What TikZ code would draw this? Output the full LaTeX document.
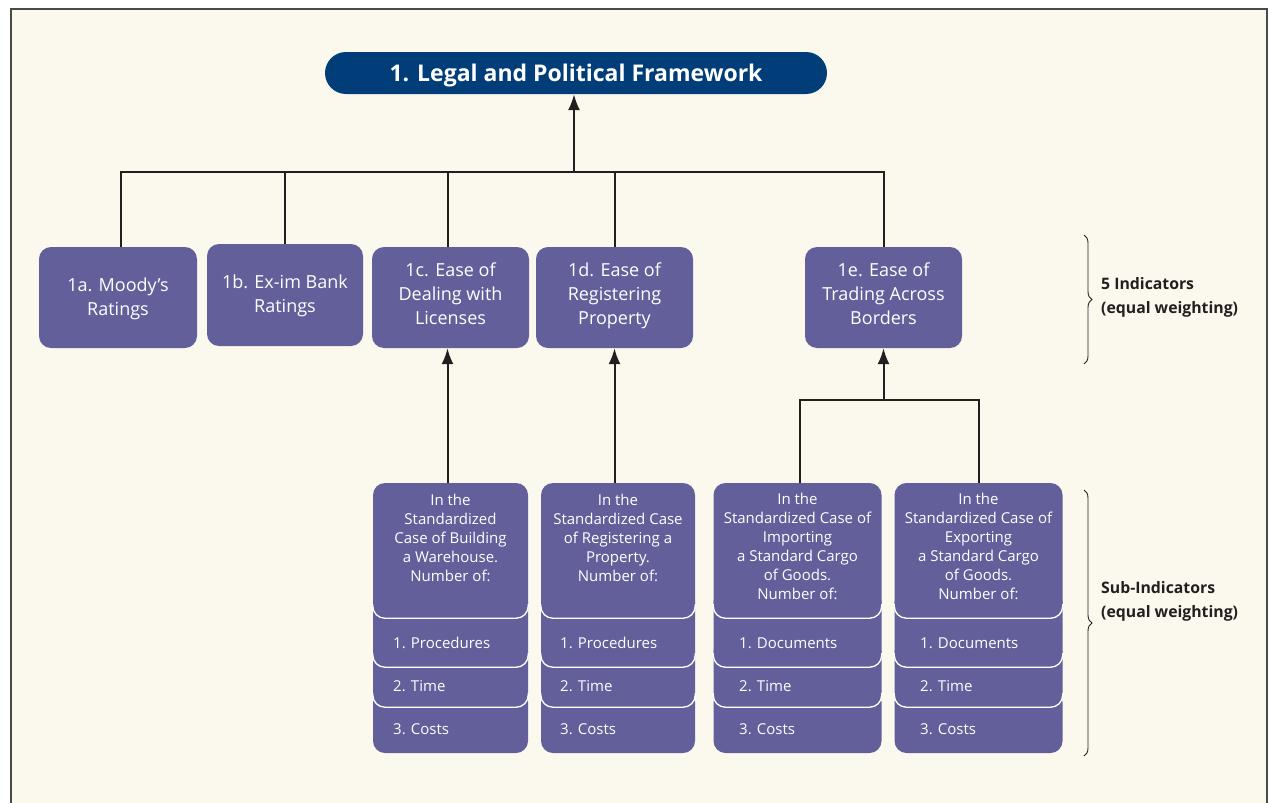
\documentclass[tikz,border=0pt]{standalone}
\usepackage{fontspec}
\setmainfont{Open Sans}
\usetikzlibrary{arrows.meta,decorations.pathreplacing}
\definecolor{cream}{HTML}{FBF9EE}
\definecolor{navy}{HTML}{003D79}
\definecolor{purp}{HTML}{625F9B}
\definecolor{ink}{HTML}{231F20}
\definecolor{framec}{HTML}{4A4A4A}
\tikzset{
  titlebox/.style={fill=navy, text=white, rounded corners=21pt, inner sep=0pt,
    minimum width=502pt, minimum height=42pt, text height=16.5pt, text depth=0pt,
    font=\fontsize{23}{28}\selectfont\bfseries},
  indbox/.style={fill=purp, text=white, rounded corners=12pt, inner sep=0pt,
    minimum height=101pt, align=center, font=\fontsize{18}{24}\selectfont,
    execute at begin node=\strut, execute at end node=\strut},
  indtxt/.style={text=white, inner sep=0pt, align=center, font=\fontsize{18}{24}\selectfont,
    execute at begin node=\strut, execute at end node=\strut},
  sband/.style={fill=purp, rounded corners=12pt, inner sep=0pt},
  subtxt/.style={text=white, inner sep=0pt, align=center, font=\fontsize{15}{19}\selectfont},
  bandtxt/.style={text=white, inner sep=0pt, anchor=base west, font=\fontsize{15}{19}\selectfont},
  sep/.style={draw=white, line width=1.3pt, rounded corners=12pt},
  conn/.style={draw=ink, line width=2pt},
  arr/.style={conn, -{Latex[length=16pt,width=12pt]}},
  bracetxt/.style={text=ink, inner sep=0pt, anchor=west, align=left, font=\fontsize{15.8}{24}\selectfont\bfseries},
  bracel/.style={draw=ink, line width=0.9pt, decorate, decoration={brace, amplitude=8pt}}
}
\begin{document}
\begin{tikzpicture}[x=1pt,y=-1pt]
\useasboundingbox (0,0) rectangle (1272,803);
\fill[white] (0,0) rectangle (1272,803);
\fill[cream] (11,9) rectangle (1267,810);
\draw[framec, line width=1.3pt] (11,815) -- (11,9) -- (1267,9) -- (1267,815);

% title
\node[titlebox] (title) at (576,73) {1. Legal and Political Framework};

% indicators
\node[indbox, minimum width=158pt] (a) at (118,297.5) {};
\node[indtxt] (atx) at ([yshift=-3pt]a.center) {1a. Moody’s\\Ratings};
\node[indbox, minimum width=156pt, minimum height=102pt] (b) at (285,295) {};
\node[indtxt] (btx) at ([yshift=-2.5pt]b.center) {1b. Ex-im Bank\\Ratings};
\node[indbox, minimum width=157pt] (c) at (450.5,297.5) {1c. Ease of\\Dealing with\\Licenses};
\node[indbox, minimum width=157pt] (d) at (614.5,297.5) {1d. Ease of\\Registering\\Property};
\node[indbox, minimum width=157pt] (e) at (883.5,297.5) {1e. Ease of\\Trading Across\\Borders};

% bus to title
\coordinate (bus) at (574,172);
\draw[conn] ([xshift=3pt]a.north) |- (bus) -| (e.north);
\draw[conn] (b.north) -- (b.north |- bus);
\draw[conn] ([xshift=-3pt]c.north) -- ([xshift=-3pt]c.north |- bus);
\draw[conn] (d.north) -- (d.north |- bus);
\draw[arr] (bus) -- (title.south -| bus);

% sub-indicator stacks
% s1
\node[sband, minimum width=155pt, minimum height=63pt] (s1c) at (450.5,721.5) {};
\node[sband, minimum width=155pt, minimum height=67pt] (s1t) at (450.5,673.5) {};
\node[sband, minimum width=155pt, minimum height=77pt] (s1p) at (450.5,628.5) {};
\node[sband, minimum width=155pt, minimum height=135pt] (s1) at (450.5,550.5) {};
% s2
\node[sband, minimum width=154pt, minimum height=63pt] (s2c) at (618,721.5) {};
\node[sband, minimum width=154pt, minimum height=67pt] (s2t) at (618,673.5) {};
\node[sband, minimum width=154pt, minimum height=77pt] (s2p) at (618,628.5) {};
\node[sband, minimum width=154pt, minimum height=135pt] (s2) at (618,550.5) {};
% s3
\node[sband, minimum width=168pt, minimum height=63pt] (s3c) at (797.5,721.5) {};
\node[sband, minimum width=168pt, minimum height=67pt] (s3t) at (797.5,673.5) {};
\node[sband, minimum width=168pt, minimum height=77pt] (s3p) at (797.5,628.5) {};
\node[sband, minimum width=168pt, minimum height=135pt] (s3) at (797.5,550.5) {};
% s4
\node[sband, minimum width=168pt, minimum height=63pt] (s4c) at (978.5,721.5) {};
\node[sband, minimum width=168pt, minimum height=67pt] (s4t) at (978.5,673.5) {};
\node[sband, minimum width=168pt, minimum height=77pt] (s4p) at (978.5,628.5) {};
\node[sband, minimum width=168pt, minimum height=135pt] (s4) at (978.5,550.5) {};

% white separators
\foreach \n in {s1,s2,s3,s4}{
  \foreach \m in {\n t,\n p,\n}{
    \draw[sep] ([yshift=14pt]\m.south west) -- (\m.south west) -- (\m.south east) -- ([yshift=14pt]\m.south east);
  }
}

% sub texts
\node[subtxt, anchor=north] (s1x) at (450.5,494) {In the\\Standardized\\Case of Building\\a Warehouse.\\Number of:};
\node[subtxt, anchor=north] (s2x) at (618,494) {In the\\Standardized Case\\of Registering a\\Property.\\Number of:};
\node[subtxt, anchor=north] (s3x) at (797.5,493) {In the\\Standardized Case of\\Importing\\a Standard Cargo\\of Goods.\\Number of:};
\node[subtxt, anchor=north] (s4x) at (978.5,493) {In the\\Standardized Case of\\Exporting\\a Standard Cargo\\of Goods.\\Number of:};

\node[bandtxt] (s1pt) at (393,648) {1. Procedures};
\node[bandtxt] (s1tt) at (393,691) {2. Time};
\node[bandtxt] (s1ct) at (393,734) {3. Costs};
\node[bandtxt] (s2pt) at (560,648) {1. Procedures};
\node[bandtxt] (s2tt) at (560,691) {2. Time};
\node[bandtxt] (s2ct) at (560,734) {3. Costs};
\node[bandtxt] (s3pt) at (739,648) {1. Documents};
\node[bandtxt] (s3tt) at (739,691) {2. Time};
\node[bandtxt] (s3ct) at (739,734) {3. Costs};
\node[bandtxt] (s4pt) at (920,648) {1. Documents};
\node[bandtxt] (s4tt) at (920,691) {2. Time};
\node[bandtxt] (s4ct) at (920,734) {3. Costs};

% arrows from sub-indicators
\draw[arr] ([xshift=-3pt]c.south |- s1.north) -- ([xshift=-3pt]c.south);
\draw[arr] (d.south |- s2.north) -- (d.south);
\coordinate (eb) at (883.5,400);
\draw[conn] ([xshift=2pt]s3.north) |- (eb) -| (s4.north);
\draw[arr] (eb) -- (e.south);

% braces
\coordinate (b1s) at (1084,235);
\coordinate (b1e) at (1084,364);
\coordinate (b2s) at (1084,490);
\coordinate (b2e) at (1084,756);
\draw[bracel] (b1s) -- (b1e);
\draw[bracel] (b2s) -- (b2e);
\node[bracetxt] (bt1) at (1101,297) {5 Indicators\\(equal weighting)};
\node[bracetxt] (bt2) at (1101,601) {Sub-Indicators\\(equal weighting)};
\end{tikzpicture}
\end{document}
